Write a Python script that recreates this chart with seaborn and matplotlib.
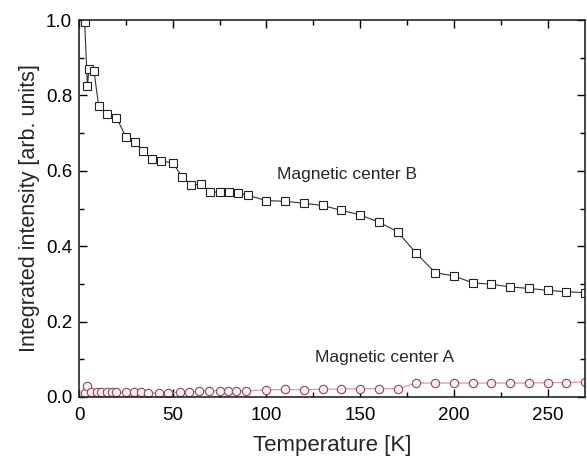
import pandas as pd
import matplotlib
matplotlib.use("Agg")
import matplotlib.pyplot as plt
import seaborn as sns
from matplotlib.ticker import MultipleLocator

# Magnetic center B (squares)
temp_b = [3, 4.5, 5.3, 8, 10.5, 15, 20, 25, 30, 34, 39, 44, 50, 55, 60, 65, 70, 75, 80, 85, 90,
          100, 110, 120, 130, 140, 150, 160, 170, 180, 190, 200, 210, 220, 230, 240, 250, 260, 270]
int_b = [0.995, 0.825, 0.87, 0.865, 0.771, 0.751, 0.741, 0.69, 0.677, 0.652, 0.631, 0.626, 0.621,
         0.584, 0.563, 0.564, 0.544, 0.543, 0.543, 0.541, 0.535,
         0.521, 0.519, 0.514, 0.508, 0.495, 0.483, 0.464, 0.438, 0.381, 0.330, 0.321, 0.303,
         0.299, 0.292, 0.288, 0.283, 0.279, 0.277]

# Magnetic center A (circles)
temp_a = [3, 4.5, 6.5, 9.5, 12, 15, 17.5, 20, 25, 29.5, 33, 37, 42.5, 47.5, 54, 58.5, 64, 69.5,
          75, 79.5, 84, 89,
          100, 110, 120, 130, 140, 150, 160, 170, 180, 190, 200, 210, 220, 230, 240, 250, 260, 270]
int_a = [0.010, 0.030, 0.014, 0.013, 0.013, 0.012, 0.012, 0.012, 0.012, 0.012, 0.012, 0.011,
         0.010, 0.011, 0.012, 0.013, 0.015, 0.016, 0.017, 0.017, 0.017, 0.016,
         0.019, 0.020, 0.019, 0.021, 0.021, 0.022, 0.022, 0.022, 0.037, 0.037, 0.037, 0.037,
         0.037, 0.037, 0.037, 0.038, 0.038, 0.040]

df_b = pd.DataFrame({'Temperature': temp_b, 'Intensity': int_b})
df_a = pd.DataFrame({'Temperature': temp_a, 'Intensity': int_a})

sns.set_style("ticks")
plt.rcParams['font.family'] = ['Liberation Sans', 'DejaVu Sans']

fig = plt.figure(figsize=(5.87, 4.62), dpi=100)
ax = fig.add_axes([0.1346, 0.1407, 0.862, 0.816])

sns.lineplot(x='Temperature', y='Intensity', data=df_b, ax=ax, color='#333333', lw=0.8,
             marker='s', markersize=5.5, markerfacecolor='white', markeredgecolor='#222222',
             markeredgewidth=0.8)
sns.lineplot(x='Temperature', y='Intensity', data=df_a, ax=ax, color='#d88a9a', lw=0.8,
             marker='o', markersize=6, markerfacecolor='#fbeef1', markeredgecolor='#8a4a5a',
             markeredgewidth=0.8)

ax.set_xlim(0, 270)
ax.set_ylim(0, 1.0)
ax.xaxis.set_major_locator(MultipleLocator(50))
ax.xaxis.set_minor_locator(MultipleLocator(25))
ax.yaxis.set_major_locator(MultipleLocator(0.2))
ax.yaxis.set_minor_locator(MultipleLocator(0.1))
ax.yaxis.set_major_formatter(matplotlib.ticker.FormatStrFormatter('%.1f'))
ax.tick_params(which='both', direction='in', top=True, right=True, width=1.0, colors='black')
ax.tick_params(which='major', length=6, labelsize=13.5)
ax.tick_params(axis='x', which='major', pad=7)
ax.tick_params(axis='y', which='major', pad=5)
ax.tick_params(which='minor', length=3.5)
for s in ax.spines.values():
    s.set_linewidth(1.2)

ax.set_xlabel('Temperature [K]', fontsize=16, labelpad=8)
ax.set_ylabel('Integrated intensity [arb. units]', fontsize=15.5, labelpad=4)

ax.text(143, 0.59, 'Magnetic center B', fontsize=12.5, ha='center', va='center')
ax.text(163, 0.106, 'Magnetic center A', fontsize=12.5, ha='center', va='center')

fig.savefig('out.png', dpi=100)
